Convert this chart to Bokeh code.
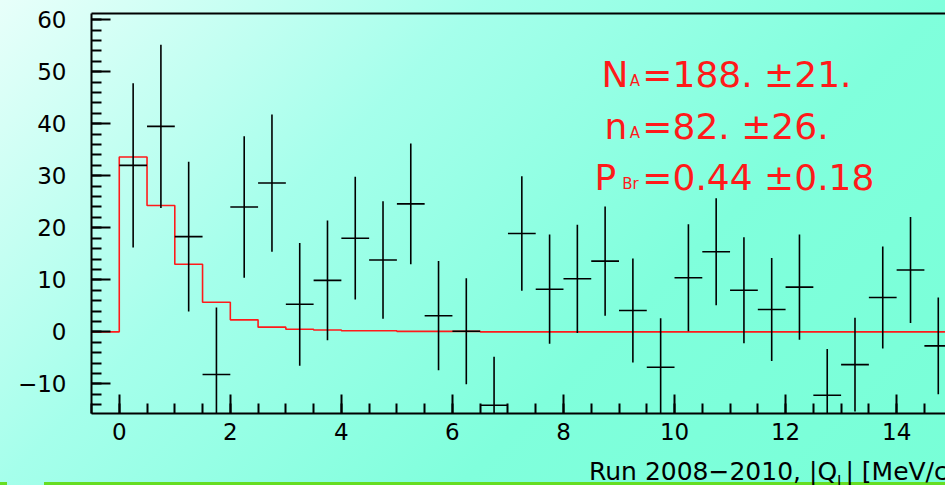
import numpy as np
from bokeh.plotting import figure
from bokeh.layouts import column
from bokeh.models import Range1d, SingleIntervalTicker, LinearAxis, FixedTicker, Label, Div
from bokeh.embed import file_html
from bokeh.resources import INLINE

# ---------------- data ----------------
bin_width = 0.5
bin_centers = [0.25, 0.75, 1.25, 1.75, 2.25, 2.75, 3.25, 3.75, 4.25, 4.75,
               5.25, 5.75, 6.25, 6.75, 7.25, 7.75, 8.25, 8.75, 9.25, 9.75,
               10.25, 10.75, 11.25, 11.75, 12.25, 12.75, 13.25, 13.75, 14.25, 14.75]
counts = [32.0, 39.5, 18.3, -8.2, 24.0, 28.6, 5.3, 9.9, 18.0, 13.8,
          24.6, 3.1, 0.1, -14.1, 18.9, 8.2, 10.2, 13.6, 4.1, -6.8,
          10.4, 15.4, 8.0, 4.3, 8.6, -12.2, -6.3, 6.6, 11.9, -2.7]
errors = [15.8, 15.7, 14.4, 12.9, 13.6, 13.2, 11.8, 11.5, 11.8, 11.3,
          11.6, 10.5, 10.2, 9.3, 11.0, 10.5, 10.4, 10.5, 10.0, 9.4,
          10.3, 10.3, 10.2, 9.9, 10.1, 8.9, 9.0, 9.8, 10.2, 9.3]

model_edges = [-0.5, 0.0, 0.5, 1.0, 1.5, 2.0, 2.5, 3.0, 3.5, 4.0, 4.5, 5.0, 5.5,
               6.0, 6.5, 7.0, 7.5, 8.0, 8.5, 9.0, 9.5, 10.0, 10.5, 11.0, 11.5,
               12.0, 12.5, 13.0, 13.5, 14.0, 14.5, 15.0]
model_values = [0.0, 33.6, 24.3, 13.0, 5.7, 2.3, 0.9, 0.5, 0.35, 0.22, 0.22,
                0.08, 0.08, 0.08, 0.0, 0.0, 0.0, 0.0, 0.0, 0.0, 0.0, 0.0, 0.0,
                0.0, 0.0, 0.0, 0.0, 0.0, 0.0, 0.0, 0.0]

x_ticks_interval = 2
y_ticks_interval = 10
y_label_overrides = {-10: "\u221210"}

stat_lines = [("N", "A", "=188. \u00b121."),
              ("n", "A", "=82. \u00b126."),
              ("P", "Br", "=0.44 \u00b10.18")]
title_main = "Run 2008\u22122010, |Q"
title_sub = "L"
title_tail = "| [MeV/c]"

# ---------------- figure ----------------
FONT = "DejaVu Sans"
p = figure(width=945, height=485, output_backend="svg", toolbar_location=None,
           x_range=Range1d(-0.5, 14.88), y_range=Range1d(-15.7, 61.2),
           min_border_left=91, min_border_right=0, min_border_top=13,
           min_border_bottom=72, border_fill_color=None,
           background_fill_color=None, outline_line_color=None)

p.styles = {
    "background": (
        "linear-gradient(#66dd22,#66dd22) 0px 482px / 7px 3px no-repeat, "
        "linear-gradient(#66dd22,#66dd22) 44px 482px / 901px 3px no-repeat, "
        "linear-gradient(135deg, #e8fffa 0%, #a5ffeb 34%, #80ffdc 66%, #78ffd7 100%)"
    )
}

p.xgrid.visible = False
p.ygrid.visible = False

for ax in (p.xaxis[0], p.yaxis[0]):
    ax.axis_line_width = 2
    ax.axis_line_color = "black"
    ax.major_tick_in = 19
    ax.major_tick_out = 0
    ax.minor_tick_in = 10
    ax.minor_tick_out = 0
    ax.major_tick_line_width = 2
    ax.minor_tick_line_width = 2
    ax.major_tick_line_color = "black"
    ax.minor_tick_line_color = "black"
    ax.major_label_text_font = FONT
    ax.major_label_text_font_size = "23px"
    ax.major_label_text_color = "black"

p.xaxis[0].ticker = SingleIntervalTicker(interval=x_ticks_interval, num_minor_ticks=4)
p.yaxis[0].ticker = SingleIntervalTicker(interval=y_ticks_interval, num_minor_ticks=5)
p.yaxis[0].major_label_overrides = y_label_overrides
p.xaxis[0].major_label_standoff = 9
p.yaxis[0].major_label_standoff = 25

top_axis = LinearAxis(ticker=FixedTicker(ticks=[]), major_label_text_font_size="0px",
                      major_label_standoff=0, axis_line_width=2, axis_line_color="black",
                      major_tick_in=0, major_tick_out=0, minor_tick_in=0, minor_tick_out=0)
p.add_layout(top_axis, "above")

# model histogram (red)
step_x = list(model_edges)
step_y = list(model_values) + [model_values[-1]]
p.step(x=step_x, y=step_y, mode="after", line_color="#ff1a1a", line_width=1.6)

# data with error bars
xc = np.array(bin_centers)
yc = np.array(counts)
ye = np.array(errors)
p.segment(x0=xc, y0=yc - ye, x1=xc, y1=yc + ye, line_color="black", line_width=1.6)
p.segment(x0=xc - bin_width / 2, y0=yc, x1=xc + bin_width / 2, y1=yc,
          line_color="black", line_width=1.6)

# ---------------- text ----------------
def dx(px):
    return (px - 119.0) / 55.52

def dy(py):
    return (331.5 - py) / 5.2

stat_baselines = [74.0, 126.0, 177.3]
main_right = [628.0, 627.0, 616.0]
sub_left = [629.5, 629.5, 622.0]
for (mainc, sub, rest), base, mr, sl in zip(stat_lines, stat_baselines, main_right, sub_left):
    p.add_layout(Label(x=dx(mr), y=dy(base), text=mainc, text_align="right",
                       text_baseline="alphabetic", text_font=FONT,
                       text_font_size="36px", text_color="#ff1a1a"))
    p.add_layout(Label(x=dx(sl), y=dy(base + 6.7), text=sub, text_align="left",
                       text_baseline="alphabetic", text_font=FONT,
                       text_font_size="15px", text_color="#ff1a1a"))
    p.add_layout(Label(x=dx(642.0), y=dy(base), text=rest, text_align="left",
                       text_baseline="alphabetic", text_font=FONT,
                       text_font_size="36px", text_color="#ff1a1a"))

# x-axis title (right part of the axis, with subscript), as HTML text over the figure bottom
title_html = (
    '<div style="position:relative;width:945px;height:45px;overflow:hidden;'
    'white-space:nowrap;">'
    '<span style="position:absolute;left:584px;top:17px;line-height:normal;'
    'font-family:\'DejaVu Sans\';font-size:25px;color:black;">'
    + title_main +
    '<span style="font-size:15px;position:relative;top:7px;">' + title_sub + '</span>'
    + title_tail + '</span></div>'
)
title_div = Div(text=title_html, width=945, height=45,
                styles={"margin-top": "-45px"})

layout = column(p, title_div, spacing=0)

open("out.html", "w").write(file_html(layout, INLINE))
